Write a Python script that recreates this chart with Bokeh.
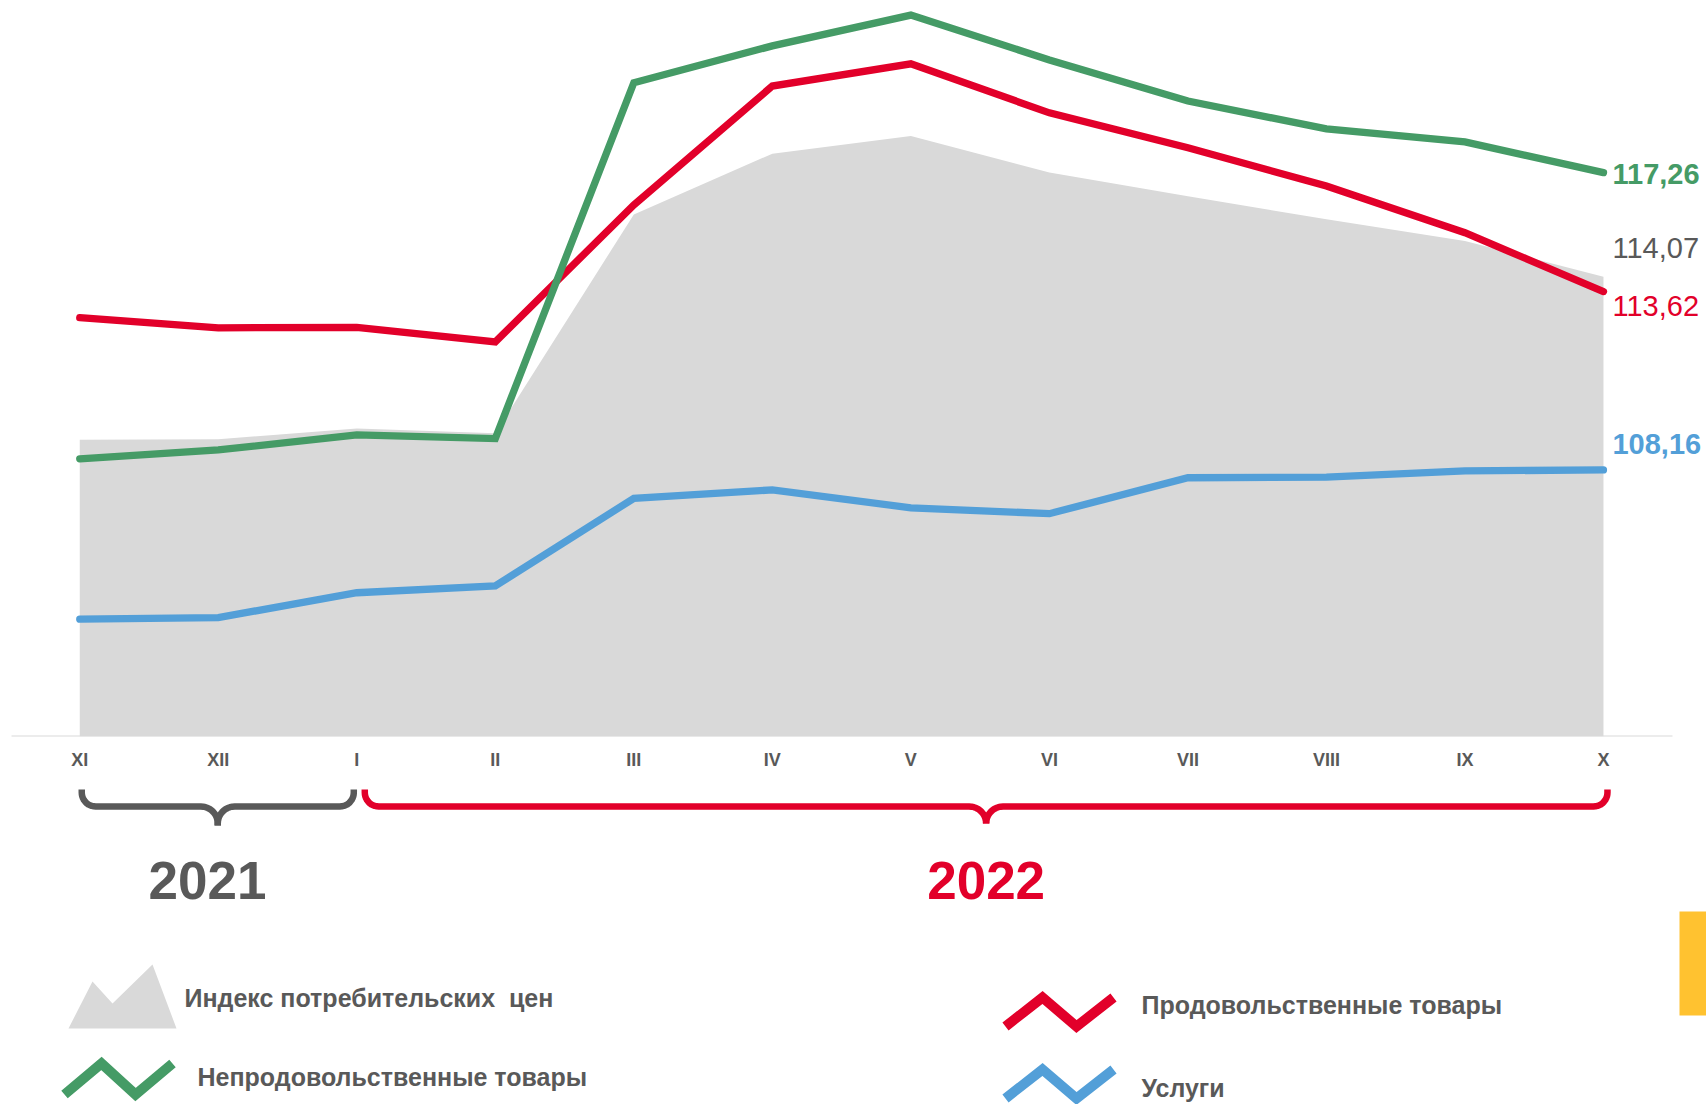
import numpy as np
from bokeh.plotting import figure
from bokeh.layouts import column
from bokeh.models import Range1d, FixedTicker
from bokeh.core.properties import value
from bokeh.embed import file_html
from bokeh.resources import INLINE

# ---------------- data ----------------
months = ["XI", "XII", "I", "II", "III", "IV", "V", "VI", "VII", "VIII", "IX", "X"]
cpi = [109.08, 109.10, 109.43, 109.28, 115.98, 117.84, 118.38, 117.26, 116.54, 115.83, 115.17, 114.07]
nonfood = [108.50, 108.77, 109.23, 109.12, 120.01, 121.14, 122.08, 120.71, 119.45, 118.60, 118.20, 117.26]
food = [112.82, 112.51, 112.52, 112.08, 116.27, 119.91, 120.59, 119.09, 118.02, 116.85, 115.42, 113.62]
services = [103.59, 103.64, 104.40, 104.61, 107.29, 107.55, 107.00, 106.82, 107.92, 107.94, 108.13, 108.16]
years = ["2021", "2022"]
year_spans = [(0, 2), (2, 11)]
legend_labels = ["Индекс потребительских \u00a0цен", "Непродовольственные товары",
                 "Продовольственные товары", "Услуги"]

# ---------------- styles ----------------
GREEN = "#459B66"
RED = "#E2002A"
BLUE = "#539FD8"
AREA = "#D9D9D9"
TXT = "#595959"
YELLOW = "#FFC230"
FONT = "Liberation Sans"

W = 1706
H1, H2 = 782, 322
X0, STEP = 79.25, 138.52          # page pixel of first category and pixels per category


def ix(px):
    """page pixel x -> category index units"""
    return (px - X0) / STEP


x = list(range(len(months)))
x_range = Range1d(ix(0), ix(W))

# ---------------- main chart ----------------
p = figure(width=W, height=H1, x_range=x_range, y_range=Range1d(100, 100 + 736 / 32.67),
           output_backend="svg", toolbar_location=None, y_axis_type=None,
           min_border_left=0, min_border_right=0, min_border_top=0, min_border_bottom=H1 - 736)
p.outline_line_color = None
p.grid.visible = False
p.background_fill_color = "white"
p.border_fill_color = "white"

p.varea(x=x, y1=[100] * len(x), y2=cpi, fill_color=AREA)
p.segment(x0=[ix(11)], y0=[100], x1=[ix(1672)], y1=[100], line_color=AREA, line_width=2)

for ys, col in [(services, BLUE), (food, RED), (nonfood, GREEN)]:
    p.line(x, ys, line_color=col, line_width=7.3, line_cap="round", line_join="miter")

end_vals = [nonfood[-1], cpi[-1], food[-1], services[-1]]
end_cols = [GREEN, TXT, RED, BLUE]
end_styles = ["bold", "normal", "normal", "bold"]
end_offsets = [1.5, -28.5, 14.0, -26.2]
for v, c, s, off in zip(end_vals, end_cols, end_styles, end_offsets):
    p.text(x=[x[-1]], y=[v], text=[f"{v:.2f}".replace(".", ",")], x_offset=9, y_offset=off,
           text_color=c, text_font=value(FONT), text_font_style=s, text_font_size="29px",
           text_align="left", text_baseline="alphabetic")

ax = p.xaxis[0]
ax.ticker = FixedTicker(ticks=x)
ax.major_label_overrides = {i: m for i, m in enumerate(months)}
ax.axis_line_color = None
ax.major_tick_line_color = None
ax.minor_tick_line_color = None
ax.major_tick_out = 0
ax.major_label_standoff = 13
ax.major_label_text_font = FONT
ax.major_label_text_font_style = "bold"
ax.major_label_text_font_size = "18px"
ax.major_label_text_color = TXT

# ---------------- braces, years, legend ----------------
q = figure(width=W, height=H2, x_range=x_range, y_range=Range1d(H1 + H2, H1),
           output_backend="svg", toolbar_location=None, x_axis_type=None, y_axis_type=None,
           min_border_left=0, min_border_right=0, min_border_top=0, min_border_bottom=0)
q.outline_line_color = None
q.grid.visible = False
q.background_fill_color = "white"
q.border_fill_color = "white"


def brace(i0, i1, in0, in1, y_top, y_mid, y_tip, r_end=14, r_tip=17):
    x0 = X0 + i0 * STEP + in0
    x1 = X0 + i1 * STEP + in1
    xt = (x0 + x1) / 2
    halves = []
    for side in (1, -1):
        xe = x0 if side == 1 else x1
        t = np.linspace(np.pi, np.pi / 2, 12)
        ax_ = list(xe + side * (r_end + r_end * np.cos(t)))
        ay_ = list(y_mid - r_end + r_end * np.sin(t))
        t2 = np.linspace(-np.pi / 2, 0, 12)
        bx = list(xt - side * (r_tip - r_tip * np.cos(t2)))
        by = list(y_mid + r_tip + r_tip * np.sin(t2))
        xs = [xe] + ax_ + bx + [xt]
        ys = [y_top] + ay_ + by + [y_tip]
        halves.append(([ix(v) for v in xs], ys))
    return halves, xt


brace_cols = [TXT, RED]
brace_insets = [(2, -3), (8, 4)]
brace_tips = [825, 823]
year_x = [207, None]
for (i0, i1), col, (a, b), yt, yr, yx in zip(year_spans, brace_cols, brace_insets, brace_tips, years, year_x):
    halves, xt = brace(i0, i1, a, b, 789, 806, yt)
    q.multi_line(xs=[h[0] for h in halves], ys=[h[1] for h in halves],
                 line_color=col, line_width=6.5, line_join="round")
    q.text(x=[ix(yx if yx else xt)], y=[880], text=[yr], text_color=col,
           text_font=value(FONT), text_font_style="bold", text_font_size="53px",
           text_align="center", text_baseline="alphabetic")

# legend icons
q.patch(x=[ix(v) for v in [68, 92, 112, 152, 176]], y=[1028, 981, 1003, 964, 1028],
        fill_color=AREA, line_color=None)
icon_lines = [
    (GREEN, [64, 101, 135, 172], [1094, 1063, 1094, 1063]),
    (RED, [1005, 1042, 1076, 1113], [1026, 997, 1026, 997]),
    (BLUE, [1005, 1042, 1076, 1113], [1098, 1069, 1098, 1069]),
]
for col, xs, ys in icon_lines:
    q.line([ix(v) for v in xs], ys, line_color=col, line_width=10, line_join="miter", line_cap="butt")

legend_pos = [(184, 997.5), (197, 1076.5), (1141, 1004.5), (1141, 1087)]
for lab, (lx, ly) in zip(legend_labels, legend_pos):
    q.text(x=[ix(lx)], y=[ly], text=[lab], text_color=TXT, text_font=value(FONT),
           text_font_style="bold", text_font_size="25px", text_align="left",
           text_baseline="alphabetic")

q.quad(left=[ix(1679)], right=[ix(1712)], top=[911], bottom=[1015], fill_color=YELLOW, line_color=None)

layout = column(p, q, spacing=0)
open("out.html", "w").write(file_html(layout, INLINE))
